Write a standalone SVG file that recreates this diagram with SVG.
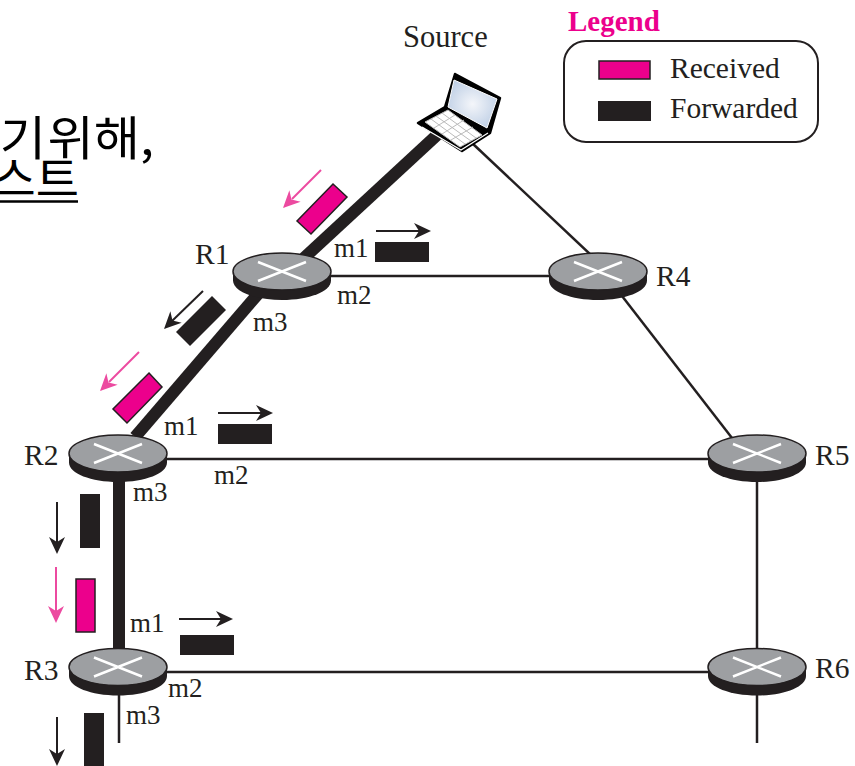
<svg xmlns="http://www.w3.org/2000/svg" xmlns:xlink="http://www.w3.org/1999/xlink" width="855" height="766" viewBox="0 0 855 766">
<style>
.t{font-family:"Liberation Serif","Times New Roman",serif;font-size:27px;fill:#231f20}
.n{font-family:"Liberation Serif","Times New Roman",serif;font-size:29.500px;fill:#231f20}
.k{font-family:"Noto Sans CJK KR","Noto Sans",sans-serif;font-size:47px;fill:#000}
.thick{stroke:#231f20;stroke-width:12;fill:none}
.thin{stroke:#231f20;stroke-width:2.500;fill:none}
.ar{stroke:#231f20;stroke-width:2;fill:none}
.pa{stroke:#ec4aa0;stroke-width:2;fill:none}
.rec{fill:#ec008c;stroke:#231f20;stroke-width:1.500}
.fwd{fill:#231f20}
</style>
<defs>
<g id="router">
<path d="M-49,0V9C-49,20 -27,28.500 0,28.500S49,20 49,9V0Z" fill="#231f20"/>
<ellipse cx="0" cy="0" rx="49" ry="18.500" fill="#9d9fa2" stroke="#231f20" stroke-width="1.500"/>
<path d="M-24,-9.500L24,9.500M-24,9.500L24,-9.500" stroke="#fff" stroke-width="2.500" fill="none"/>
</g>
<path id="ah" d="M0,0L-17,-8L-12,0L-17,8Z" fill="#231f20"/>
<path id="pah" d="M0,0L-17,-8L-12,0L-17,8Z" fill="#ec4aa0"/>
<radialGradient id="screen" cx="0.5" cy="0.5" r="0.6">
<stop offset="0" stop-color="#f4f6fa"/>
<stop offset="1" stop-color="#bccde4"/>
</radialGradient>
</defs>
<g id="caption">
<text class="k" transform="translate(154,155) scale(1.07,1)" text-anchor="end" word-spacing="-9">기 위해,</text>
<text class="k" x="79" y="196" text-anchor="end">스트</text>
<path d="M-2,201.500H78" stroke="#000" stroke-width="2.500"/>
</g>
<g id="connectors">
<path class="thick" d="M437,135L304,258"/>
<path class="thick" d="M258,294L135,437"/>
<path class="thick" d="M119,480V650"/>
<path class="thin" d="M472,143L592,256"/>
<path class="thin" d="M330,276H550"/>
<path class="thin" d="M622,296L732,438"/>
<path class="thin" d="M167,459H708"/>
<path class="thin" d="M757,480V652"/>
<path class="thin" d="M167,672H708"/>
<path class="thin" d="M119,692V743"/>
<path class="thin" d="M757,692V743"/>
</g>
<g id="packets">
<path class="rec" d="M333,184L347,197L311,234L297,221Z"/>
<path class="fwd" d="M212,296L226,310L190,346L176,332Z"/>
<path class="rec" d="M149,373L162,387L127,423L113,409Z"/>
<rect class="fwd" x="375" y="242" width="54" height="20"/>
<rect class="fwd" x="218" y="424" width="54" height="20"/>
<rect class="fwd" x="180" y="635" width="54" height="20"/>
<rect class="fwd" x="80" y="494" width="20" height="54"/>
<rect class="rec" x="76" y="579" width="19" height="53"/>
<rect class="fwd" x="84" y="713" width="20" height="53"/>
<path class="pa" d="M321,170L292,199"/><use xlink:href="#pah" transform="translate(283,208) rotate(135)"/>
<path class="ar" d="M203,291L172,321"/><use xlink:href="#ah" transform="translate(164,329) rotate(135)"/>
<path class="pa" d="M139,352L109,382"/><use xlink:href="#pah" transform="translate(100,391) rotate(135)"/>
<path class="ar" d="M376,231H420"/><use xlink:href="#ah" transform="translate(431,231)"/>
<path class="ar" d="M218,413H262"/><use xlink:href="#ah" transform="translate(273,413)"/>
<path class="ar" d="M179,619H222"/><use xlink:href="#ah" transform="translate(233,619)"/>
<path class="ar" d="M57,502V543"/><use xlink:href="#ah" transform="translate(57,554) rotate(90)"/>
<path class="pa" d="M56,567V612"/><use xlink:href="#pah" transform="translate(56,623) rotate(90)"/>
<path class="ar" d="M57,717V755"/><use xlink:href="#ah" transform="translate(57,766) rotate(90)"/>
</g>
<g id="source">
<path d="M455,74L500,98L490,133L462,151L418,123L445,107Z" fill="#000" stroke="#000" stroke-width="2.500" stroke-linejoin="round"/>
<path d="M454,80L497,99L487,128L448,107Z" fill="url(#screen)" stroke="#fff" stroke-width="1"/>
<path d="M448,110L482,135L460,147L425,122Z" fill="#fff" stroke="#bbb" stroke-width="1"/>
<path d="M436,116L471,141M431,119L465,144M442,113L476,138M434,128L455,115M442,134L464,120M451,140L473,127" stroke="#bbb" stroke-width="1" fill="none"/>
<path d="M422,127L461,150L488,133" stroke="#fff" stroke-width="1.200" fill="none"/>
<text class="n" x="403" y="47" style="font-size:30.500px">Source</text>
</g>
<g id="R1"><use xlink:href="#router" x="282" y="271.500"/><text class="n" x="195" y="264">R1</text></g>
<g id="R4"><use xlink:href="#router" x="598" y="271.500"/><text class="n" x="656" y="286">R4</text></g>
<g id="R2"><use xlink:href="#router" x="118" y="453.500"/><text class="n" x="24" y="465">R2</text></g>
<g id="R5"><use xlink:href="#router" x="757" y="453.500"/><text class="n" x="815" y="465">R5</text></g>
<g id="R3"><use xlink:href="#router" x="118" y="667"/><text class="n" x="24" y="680">R3</text></g>
<g id="R6"><use xlink:href="#router" x="757" y="667"/><text class="n" x="815" y="678">R6</text></g>
<g id="labels">
<text class="t" x="334" y="257">m1</text>
<text class="t" x="337" y="304">m2</text>
<text class="t" x="253" y="331">m3</text>
<text class="t" x="164" y="435">m1</text>
<text class="t" x="214" y="484">m2</text>
<text class="t" x="133" y="501">m3</text>
<text class="t" x="130" y="632">m1</text>
<text class="t" x="168" y="697">m2</text>
<text class="t" x="126" y="724">m3</text>
</g>
<g id="legend">
<text x="568" y="31" font-family="Liberation Serif,serif" font-weight="bold" font-size="29" fill="#ec008c">Legend</text>
<rect x="564" y="41" width="254" height="101" rx="22" fill="#fff" stroke="#231f20" stroke-width="2"/>
<rect class="rec" x="599" y="61" width="51" height="18"/>
<rect class="fwd" x="598" y="101" width="53" height="20"/>
<text class="n" x="670" y="78">Received</text>
<text class="n" x="670" y="118">Forwarded</text>
</g>
</svg>
